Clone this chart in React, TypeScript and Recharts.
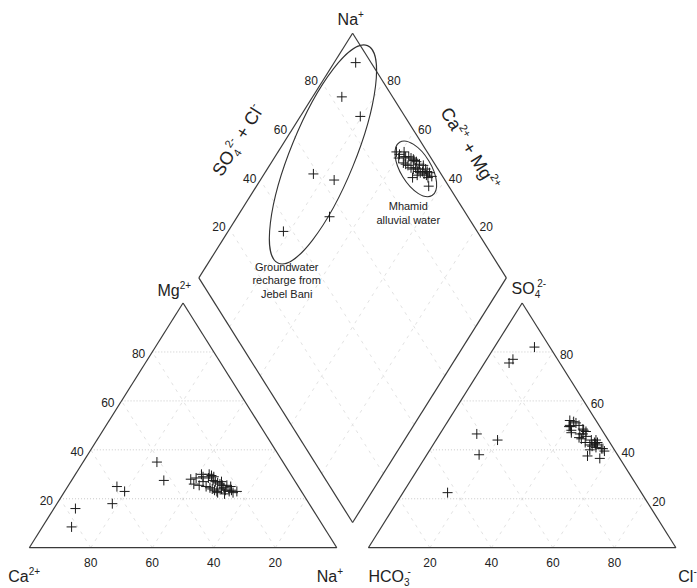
import React from 'react';
import { ScatterChart, Scatter, XAxis, YAxis, ReferenceLine, ReferenceDot } from 'recharts';

const CHART_W = 697;
const CHART_H = 588;
const GAP = 10.28;
const S60 = Math.sqrt(3) / 2;
const X_DOMAIN: [number, number] = [-9.528, 217.14];
const Y_DOMAIN: [number, number] = [-14.265, 193.88];
const FONT = "'Liberation Sans', Arial, Helvetica, sans-serif";

// ---- sample compositions (% meq) : 7 Jebel Bani recharge samples, then Mhamid alluvial samples
const caPct = [77, 82, 57.5, 59, 41, 42.5, 64,
  31.5, 29, 33.5, 29, 30, 32, 27.5, 26, 30, 26.5, 29, 26, 28.5, 25.5, 28, 25, 27.5, 24.5, 25.5, 24.5, 23, 24.5, 25.5, 22, 23.5, 22.5, 22.5, 24, 21, 25.5, 33.5, 26.5, 27.5];
const mgPct = [16, 8.5, 23, 25, 35, 27.5, 18,
  28.5, 30, 26, 29, 27, 25.5, 28.5, 29.5, 25, 27.5, 24.5, 27, 24, 26.5, 23.5, 26, 23, 25.5, 24, 24.5, 25.5, 23.5, 22, 25, 23, 23.5, 22.5, 27, 23, 29, 28, 30, 22.5];
const naPct = [7, 9.5, 19.5, 16, 24, 30, 18,
  40, 41, 40.5, 42, 43, 42.5, 44, 44.5, 45, 46, 46.5, 47, 47.5, 48, 48.5, 49, 49.5, 50, 50.5, 51, 51.5, 52, 52.5, 53, 53.5, 54, 55, 49, 56, 45.5, 38.5, 43.5, 50];
const hco3Pct = [5, 16.5, 14.5, 41.5, 36, 45, 63,
  9.5, 7.5, 10.5, 8.5, 10, 8, 9.5, 6.5, 9, 6, 8.5, 5.5, 8, 7, 5, 6.5, 7, 4, 6.5, 5.5, 4, 5.5, 4, 5, 3.5, 5, 3.5, 10, 6.5, 6, 10, 7, 8];
const so4Pct = [82, 75.5, 77, 46.5, 44, 38, 22.5,
  50, 51.5, 47, 52, 48, 46.5, 49.5, 50, 45, 48.5, 44.5, 47.5, 43, 46.5, 43, 45.5, 42, 44, 41.5, 44, 43, 41, 40.5, 42.5, 39.5, 42, 40.5, 37.5, 36.5, 48, 49.5, 51, 40];
const clPct = [13, 8, 8.5, 12, 20, 17, 14.5,
  40.5, 41, 42.5, 39.5, 42, 45.5, 41, 43.5, 46, 45.5, 47, 47, 49, 46.5, 52, 48, 51, 52, 52, 50.5, 53, 53.5, 55.5, 52.5, 57, 53, 56, 52.5, 57, 46, 40.5, 42, 52];

const tickValues = [20, 40, 60, 80];

// annotation ellipses (centres in plot units)
const rechargeEllipseCentre = [{ x: 95.5, y: 139.2 }];
const mhamidEllipseCentre = [{ x: 125.7, y: 134.1 }];

type Pt = { x: number; y: number };
const cation = (mg: number, na: number): Pt => ({ x: na + mg / 2, y: mg * S60 });
const anion = (so4: number, cl: number): Pt => ({ x: 100 + GAP + cl + so4 / 2, y: so4 * S60 });
const diamond = (caMg: number, so4Cl: number): Pt => ({
  x: (200 + GAP + so4Cl - caMg) / 2,
  y: (GAP + so4Cl + caMg) * S60,
});

const cationPts = caPct.map((_, i) => cation(mgPct[i], naPct[i]));
const anionPts = caPct.map((_, i) => anion(so4Pct[i], clPct[i]));
const diamondPts = caPct.map((ca, i) => diamond(ca + mgPct[i], so4Pct[i] + clPct[i]));

type Seg = [Pt, Pt];
const hGridSegs: Seg[] = [];
const dGridSegs: Seg[] = [];
tickValues.forEach((p) => {
  hGridSegs.push([cation(p, 0), cation(p, 100 - p)]);
  dGridSegs.push([cation(0, 100 - p), cation(100 - p, 0)]);
  dGridSegs.push([cation(0, p), cation(100 - p, p)]);
  hGridSegs.push([anion(p, 0), anion(p, 100 - p)]);
  dGridSegs.push([anion(0, 100 - p), anion(100 - p, 0)]);
  dGridSegs.push([anion(0, p), anion(100 - p, p)]);
  dGridSegs.push([diamond(p, 0), diamond(p, 100)]);
  dGridSegs.push([diamond(0, p), diamond(100, p)]);
});

const outlineSegs: Seg[] = [
  [cation(0, 0), cation(0, 100)],
  [cation(0, 100), cation(100, 0)],
  [cation(100, 0), cation(0, 0)],
  [anion(0, 0), anion(0, 100)],
  [anion(0, 100), anion(100, 0)],
  [anion(100, 0), anion(0, 0)],
  [diamond(100, 0), diamond(100, 100)],
  [diamond(100, 100), diamond(0, 100)],
  [diamond(0, 100), diamond(0, 0)],
  [diamond(0, 0), diamond(100, 0)],
];

const plusShape = (p: any) => (
  <path
    d={`M${p.cx - 5},${p.cy}H${p.cx + 5}M${p.cx},${p.cy - 5}V${p.cy + 5}`}
    stroke="#1a1a1a"
    strokeWidth={1}
    fill="none"
  />
);

type TxtOpts = { dx?: number; dy?: number; anchor?: 'start' | 'middle' | 'end'; size?: number; rotate?: number };
const txt = (key: string, at: Pt, content: React.ReactNode, o: TxtOpts = {}) => (
  <ReferenceDot
    key={key}
    x={at.x}
    y={at.y}
    r={0}
    ifOverflow="visible"
    shape={(p: any) => {
      const tx = p.cx + (o.dx ?? 0);
      const ty = p.cy + (o.dy ?? 0);
      return (
        <text
          x={tx}
          y={ty}
          textAnchor={o.anchor ?? 'middle'}
          fontSize={o.size ?? 12}
          fontFamily={FONT}
          fill="#222"
          transform={o.rotate ? `rotate(${o.rotate} ${tx} ${ty})` : undefined}
        >
          {content}
        </text>
      );
    }}
  />
);

const sup = (s: string, dy = -7, size = 10) => <tspan fontSize={size} dy={dy}>{s}</tspan>;

export default function App() {
  return (
    <div style={{ position: 'absolute', left: 0, top: 0, width: CHART_W, height: CHART_H, background: '#fff' }}>
      <ScatterChart width={CHART_W} height={CHART_H} margin={{ top: 0, right: 0, bottom: 0, left: 0 }}>
        <XAxis type="number" dataKey="x" domain={X_DOMAIN} hide allowDataOverflow />
        <YAxis type="number" dataKey="y" domain={Y_DOMAIN} hide allowDataOverflow />
        {dGridSegs.map((s, i) => (
          <ReferenceLine key={`d${i}`} segment={s} stroke="#e2e2e2" strokeWidth={1} strokeDasharray="3 5" />
        ))}
        {hGridSegs.map((s, i) => (
          <ReferenceLine key={`h${i}`} segment={s} stroke="#c8c8c8" strokeWidth={1} strokeDasharray="1 2" />
        ))}
        {outlineSegs.map((s, i) => (
          <ReferenceLine key={`o${i}`} segment={s} stroke="#3a3a3a" strokeWidth={1.2} />
        ))}
        <Scatter
          data={rechargeEllipseCentre}
          isAnimationActive={false}
          shape={(p: any) => (
            <ellipse cx={p.cx} cy={p.cy} rx={32.2} ry={117.6} transform={`rotate(22.25 ${p.cx} ${p.cy})`} fill="none" stroke="#333" strokeWidth={1.1} />
          )}
        />
        <Scatter
          data={mhamidEllipseCentre}
          isAnimationActive={false}
          shape={(p: any) => (
            <ellipse cx={p.cx} cy={p.cy} rx={15.3} ry={31.2} transform={`rotate(-31.3 ${p.cx} ${p.cy})`} fill="none" stroke="#333" strokeWidth={1.1} />
          )}
        />
        <Scatter data={cationPts} isAnimationActive={false} shape={plusShape} />
        <Scatter data={anionPts} isAnimationActive={false} shape={plusShape} />
        <Scatter data={diamondPts} isAnimationActive={false} shape={plusShape} />

        {/* tick labels */}
        {tickValues.map((p) => txt(`mg${p}`, cation(p, 0), String(p), { anchor: 'end', dx: -7, dy: 6 }))}
        {tickValues.map((p) => txt(`ca${p}`, cation(0, 100 - p), String(p), { dy: 19 }))}
        {tickValues.map((p) => txt(`cl${p}`, anion(0, p), String(p), { dy: 19 }))}
        {tickValues.map((p) => txt(`so${p}`, anion(p, 100 - p), String(p), { anchor: 'start', dx: 7, dy: 7 }))}
        {tickValues.map((p) => txt(`dl${p}`, diamond(100, p), String(p), { anchor: 'end', dx: -4, dy: 2.5 }))}
        {tickValues.map((p) => txt(`dr${p}`, diamond(p, 100), String(p), { anchor: 'start', dx: 4, dy: 2.5 }))}

        {/* corner / axis titles */}
        {txt('tNa', diamond(100, 100), <>Na{sup('+')}</>, { size: 16, anchor: 'start', dx: -15, dy: -8 })}
        {txt('tMg', cation(100, 0), <>Mg{sup('2+')}</>, { size: 16, anchor: 'start', dx: -25.6, dy: -6.6 })}
        {txt('tSO4', anion(100, 0), <>SO<tspan fontSize={10} dy={4}>4</tspan><tspan fontSize={10} dx={-3} dy={-11}>2-</tspan></>, { size: 16, anchor: 'start', dx: -10.6, dy: -9 })}
        {txt('tCa', cation(0, 0), <>Ca{sup('2+')}</>, { size: 16, anchor: 'start', dx: -21, dy: 34 })}
        {txt('tNaB', cation(0, 100), <>Na{sup('+')}</>, { size: 16, anchor: 'start', dx: -20, dy: 34 })}
        {txt('tHCO3', anion(0, 0), <>HCO<tspan fontSize={10} dy={4}>3</tspan><tspan fontSize={10} dx={-2} dy={-11}>-</tspan></>, { size: 16, anchor: 'start', dx: 0, dy: 34 })}
        {txt('tCl', anion(0, 100), <>Cl{sup('-')}</>, { size: 16, anchor: 'start', dx: 2.4, dy: 34 })}
        {txt('tSO4Cl', { x: 69.5, y: 145.2 }, <>SO<tspan fontSize={11} dy={4}>4</tspan><tspan fontSize={11} dx={-3} dy={-12}>2-</tspan><tspan dy={8}> + Cl</tspan><tspan fontSize={11} dy={-8}>-</tspan></>, { size: 18, rotate: -57.9, dy: 6 })}
        {txt('tCaMg', { x: 141.6, y: 142.2 }, <>Ca{sup('2+', -8, 11)}<tspan dy={8}> + Mg</tspan>{sup('2+', -8, 11)}</>, { size: 18, rotate: 57.9, dy: 6 })}

        {/* annotations */}
        {txt('a1', { x: 83.7, y: 98.1 }, 'Groundwater', { size: 11 })}
        {txt('a2', { x: 83.7, y: 98.1 }, 'recharge from', { size: 11, dy: 13.5 })}
        {txt('a3', { x: 83.7, y: 98.1 }, 'Jebel Bani', { size: 11, dy: 27 })}
        {txt('a4', { x: 123.25, y: 119.7 }, 'Mhamid', { size: 11 })}
        {txt('a5', { x: 123.25, y: 119.7 }, 'alluvial water', { size: 11, dy: 14.5 })}
      </ScatterChart>
    </div>
  );
}
